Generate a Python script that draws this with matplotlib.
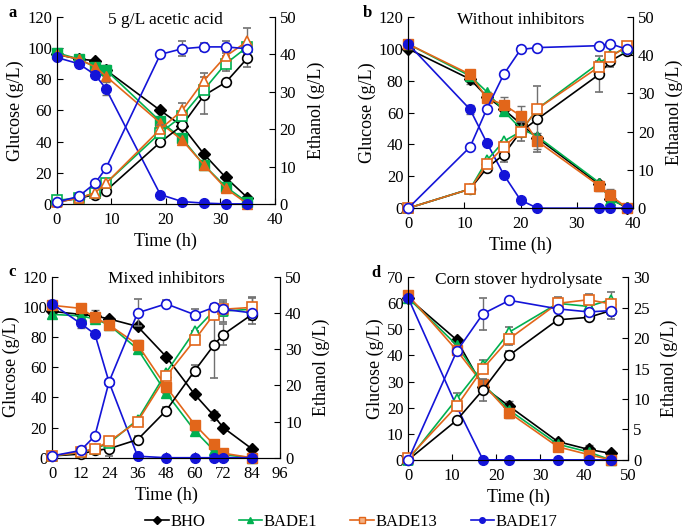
import matplotlib
matplotlib.use('Agg')
from matplotlib import pyplot as plt
from matplotlib.lines import Line2D

plt.rcParams['font.family'] = ['Liberation Serif', 'DejaVu Serif']

strains = ['BHO', 'BADE1', 'BADE13', 'BADE17']
colors = {'BHO': '#000000', 'BADE1': '#00B050', 'BADE13': '#E2661A', 'BADE17': '#1414D8'}

# ---- panel a: 5 g/L acetic acid
t_a = [0, 4, 7, 9, 19, 23, 27, 31, 35]
glc_a = {
    'BHO':    [96, 93, 92, 86, 60, 50, 32, 17, 4],
    'BADE1':  [97, 93, 88, 86, 53, 42, 25, 11, 1],
    'BADE13': [96, 93, 88, 82, 52, 41, 25, 10, 0],
    'BADE17': [94, 90, 83, 74, 6, 1.5, 0.5, 0, 0],
}
eth_a = {
    'BHO':    [0.5, 1.5, 2.5, 3.5, 16.5, 21, 29, 32.5, 39],
    'BADE1':  [1, 1.5, 3, 5.5, 19, 23.5, 30.5, 37.5, 42],
    'BADE13': [0.5, 1.5, 3, 5.5, 20, 25, 33, 39.5, 43.5],
    'BADE17': [0.5, 2, 5.5, 9.5, 40, 41.5, 42, 42, 41.5],
}
glc_err_a = {'BHO': [0, 0, 0, 3, 0, 0, 0, 0, 0], 'BADE17': [0, 0, 0, 4, 0, 0, 0, 0, 0]}
eth_err_a = {
    'BHO':    [0, 0, 0, 0, 0, 0, 5, 0, 2.5],
    'BADE1':  [0, 0, 0, 0, 0, 0, 0, 2, 0],
    'BADE13': [0, 0, 0, 0, 1, 2, 2, 1.5, 3.5],
    'BADE17': [0, 0, 0, 0, 0.5, 2, 1, 1.5, 0],
}

# ---- panel b: without inhibitors
t_b = [0, 11, 14, 17, 20, 23, 34, 36, 39]
glc_b = {
    'BHO':    [100, 81, 70, 62, 53, 44, 15, 6, 0],
    'BADE1':  [103, 83, 73, 61, 50, 45, 16, 5, 1],
    'BADE13': [103, 84, 69, 65, 58, 42, 14, 8, 0],
    'BADE17': [103, 62, 41, 21, 5, 0, 0, 0, 0],
}
eth_b = {
    'BHO':    [0, 5, 10.5, 14, 20, 23.3, 35, 38.5, 41],
    'BADE1':  [0, 5, 12.5, 17.5, 20, 26, 38, 40, 42],
    'BADE13': [0, 5, 11.5, 16, 20, 26, 37, 39.5, 42.5],
    'BADE17': [0, 16, 26, 35, 41.5, 42, 42.5, 43, 41.5],
}
glc_err_b = {'BHO': [0, 3, 0, 0, 0, 0, 0, 0, 0], 'BADE13': [0, 0, 0, 5, 6, 5, 3, 4, 0],
             'BADE17': [0, 3, 0, 0, 0, 0, 0, 0, 0]}
eth_err_b = {'BHO': [0, 0, 0, 2, 2.5, 8.7, 4.7, 1.5, 0], 'BADE13': [0, 0, 0, 0, 0, 0, 1.5, 0, 0],
             'BADE17': [0, 0, 0, 0, 1, 0, 0, 0, 0]}

# ---- panel c: mixed inhibitors
t_c = [0, 12, 18, 24, 36, 48, 60, 68, 72, 84]
glc_c = {
    'BHO':    [97, 95, 94, 92, 87, 67, 42, 28, 20, 6],
    'BADE1':  [95, 94, 92, 88, 72, 43, 18, 5, 2, 0],
    'BADE13': [101, 99, 93, 88, 75, 47, 22, 9, 3, 0],
    'BADE17': [102, 89, 82, 50, 1, 0, 0, 0, 0, 0],
}
eth_c = {
    'BHO':    [0.5, 1, 2, 2.5, 5, 13, 24, 31, 34, 39.5],
    'BADE1':  [0.5, 1.5, 2.5, 4, 10.5, 23.5, 35, 40.5, 40.5, 41],
    'BADE13': [0.5, 1.5, 2.5, 4.5, 10, 22.5, 32.5, 39.5, 41, 41.5],
    'BADE17': [0.5, 2, 6, 21, 40, 42.5, 39.5, 41.5, 41, 40],
}
glc_err_c = {'BHO': [0, 0, 4, 0, 0, 0, 0, 3, 0, 0], 'BADE13': [0, 0, 0, 0, 3, 0, 0, 0, 0, 0],
             'BADE17': [0, 3, 0, 0, 0, 0, 0, 0, 0, 0]}
eth_err_c = {'BHO': [0, 0, 1, 2, 1, 1, 1.5, 9, 3, 2.5], 'BADE1': [0, 0, 0, 0, 0, 0, 0, 2, 3, 3],
             'BADE13': [0, 0, 0, 0, 0, 0, 0, 0, 2, 3], 'BADE17': [0, 0, 0, 0, 3.7, 1, 1.5, 0, 0, 0]}

# ---- panel d: corn stover hydrolysate
t_d = [0, 11, 17, 23, 34, 41, 46]
glc_d = {
    'BHO':    [62, 46, 28, 20.5, 7, 4, 2.5],
    'BADE1':  [62, 44, 29, 19, 6, 3, 0],
    'BADE13': [63, 42, 29, 18, 5, 2, 0],
    'BADE17': [62, 20.5, 0, 0, 0, 0, 0],
}
eth_d = {
    'BHO':    [0, 6.5, 11.5, 17.2, 23, 23.4, 24.5],
    'BADE1':  [0, 10, 15.5, 21, 25.7, 25.2, 26.3],
    'BADE13': [0.3, 8.8, 15, 19.9, 25.7, 26.3, 25.6],
    'BADE17': [0, 17.8, 24, 26.2, 24.8, 24.3, 24.5],
}
glc_err_d = {'BHO': [0, 0, 2, 2, 0, 1.5, 0], 'BADE13': [0, 0, 0, 2, 0, 0, 0]}
eth_err_d = {'BHO': [0, 0, 1.8, 0.6, 0.5, 0.5, 1.3], 'BADE1': [0, 1, 0.9, 0.8, 1, 1, 1.3],
             'BADE13': [0, 0, 0, 1, 0, 1, 0], 'BADE17': [0, 0, 2.6, 0, 0, 0, 0]}

panels = [
    dict(letter='a', lx=0.012, title='5 g/L acetic acid', t=t_a, glc=glc_a, eth=eth_a, ge=glc_err_a,
         ee=eth_err_a, pos=[0.083, 0.616, 0.318, 0.352], xt=range(0, 41, 10), gmax=120, gstep=20,
         emax=50, estep=10, rlabel='Ethanol (g/L)',
         marks={'BHO': 'D', 'BADE1': 's', 'BADE13': '^', 'BADE17': 'o'}),
    dict(letter='b', lx=0.530, title='Without inhibitors', t=t_b, glc=glc_b, eth=eth_b, ge=glc_err_b,
         ee=eth_err_b, pos=[0.596, 0.608, 0.328, 0.360], xt=range(0, 41, 10), gmax=120, gstep=20,
         emax=50, estep=10, rlabel='Ethaanol (g/L)',
         marks={'BHO': 'D', 'BADE1': '^', 'BADE13': 's', 'BADE17': 'o'}),
    dict(letter='c', lx=0.012, title='Mixed inhibitors', t=t_c, glc=glc_c, eth=eth_c, ge=glc_err_c,
         ee=eth_err_c, pos=[0.076, 0.138, 0.333, 0.341], xt=range(0, 97, 12), gmax=120, gstep=20,
         emax=50, estep=10, rlabel='Ethanol (g/L)',
         marks={'BHO': 'D', 'BADE1': '^', 'BADE13': 's', 'BADE17': 'o'}),
    dict(letter='d', lx=0.542, title='Corn stover hydrolysate', t=t_d, glc=glc_d, eth=eth_d, ge=glc_err_d,
         ee=eth_err_d, pos=[0.596, 0.134, 0.321, 0.344], xt=range(0, 51, 10), gmax=70, gstep=10,
         emax=30, estep=5, rlabel='Ethanol (g/L)',
         marks={'BHO': 'D', 'BADE1': '^', 'BADE13': 's', 'BADE17': 'o'}),
]

fig = plt.figure(figsize=(6.85, 5.31), dpi=100)

for p in panels:
    ax = fig.add_axes(p['pos'])
    ax2 = ax.twinx()
    n = len(p['t'])
    for s in strains:
        c = colors[s]
        m = p['marks'][s]
        ms = 6 if m == 'D' else 7
        ax.errorbar(p['t'], p['glc'][s], yerr=p['ge'].get(s, [0] * n), color=c, lw=1.2,
                    marker=m, ms=ms, mfc=c, mec=c, ecolor='#707070', elinewidth=1, capsize=3,
                    clip_on=False, zorder=3)
        ax2.errorbar(p['t'], p['eth'][s], yerr=p['ee'].get(s, [0] * n), color=c, lw=1.2,
                     marker='o' if s == 'BHO' else m, ms=7, mfc='white', mec=c, mew=1.2,
                     ecolor='#707070', elinewidth=1, capsize=3, clip_on=False, zorder=3)
    ax.set_xlim(p['xt'][0], p['xt'][-1])
    ax.set_xticks(list(p['xt']))
    ax.set_ylim(0, p['gmax'])
    ax.set_yticks(range(0, p['gmax'] + 1, p['gstep']))
    ax2.set_ylim(0, p['emax'])
    ax2.set_yticks(range(0, p['emax'] + 1, p['estep']))
    for a in (ax, ax2):
        a.spines['top'].set_visible(False)
        a.tick_params(direction='in', labelsize=12, length=4)
    ax.tick_params(axis='x', pad=6)
    ax.set_xlabel('Time (h)', fontsize=13, labelpad=3)
    ax.set_ylabel('Glucose (g/L)', fontsize=13, labelpad=2)
    ax2.set_ylabel(p['rlabel'], fontsize=13, labelpad=8)
    ax.text(0.5, 0.985, p['title'], transform=ax.transAxes, ha='center', va='center', fontsize=12.5)
    x0, y0, w, h = p['pos']
    fig.text(p['lx'], y0 + h + 0.008, p['letter'], fontsize=12, fontweight='bold', va='center')

leg_marks = {'BHO': 'D', 'BADE1': '^', 'BADE13': 's', 'BADE17': 'o'}
leg_fill = {'BHO': '#000000', 'BADE1': '#00B050', 'BADE13': '#F4B183', 'BADE17': '#1414D8'}
handles = [Line2D([], [], color=colors[s], lw=1.2, marker=leg_marks[s], ms=4, mfc=leg_fill[s])
           for s in strains]
fig.legend(handles, strains, loc='lower center', ncol=4, frameon=False, fontsize=12,
           bbox_to_anchor=(0.513, -0.026), handlelength=1.4, handletextpad=0.1, columnspacing=2.0)

fig.savefig('out.png', dpi=100)
